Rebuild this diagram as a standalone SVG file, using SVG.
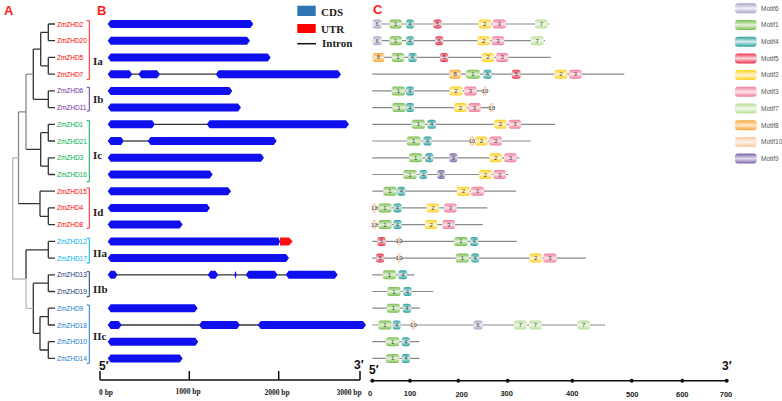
<svg xmlns="http://www.w3.org/2000/svg" width="782" height="401" viewBox="0 0 782 401">
<defs>
<linearGradient id="g6" x1="0" y1="0" x2="0" y2="1"><stop offset="0" stop-color="#a7a3c6"/><stop offset="0.5" stop-color="#f2f1f8"/><stop offset="1" stop-color="#a7a3c6"/></linearGradient>
<linearGradient id="g1" x1="0" y1="0" x2="0" y2="1"><stop offset="0" stop-color="#79bd4c"/><stop offset="0.5" stop-color="#e6f3dc"/><stop offset="1" stop-color="#79bd4c"/></linearGradient>
<linearGradient id="g4" x1="0" y1="0" x2="0" y2="1"><stop offset="0" stop-color="#26a09a"/><stop offset="0.5" stop-color="#d8efee"/><stop offset="1" stop-color="#26a09a"/></linearGradient>
<linearGradient id="g5" x1="0" y1="0" x2="0" y2="1"><stop offset="0" stop-color="#e8304a"/><stop offset="0.5" stop-color="#fbdade"/><stop offset="1" stop-color="#e8304a"/></linearGradient>
<linearGradient id="g2" x1="0" y1="0" x2="0" y2="1"><stop offset="0" stop-color="#fdd020"/><stop offset="0.5" stop-color="#fff6d0"/><stop offset="1" stop-color="#fdd020"/></linearGradient>
<linearGradient id="g3" x1="0" y1="0" x2="0" y2="1"><stop offset="0" stop-color="#f07b99"/><stop offset="0.5" stop-color="#fde3ea"/><stop offset="1" stop-color="#f07b99"/></linearGradient>
<linearGradient id="g7" x1="0" y1="0" x2="0" y2="1"><stop offset="0" stop-color="#b6de98"/><stop offset="0.5" stop-color="#f1f9ea"/><stop offset="1" stop-color="#b6de98"/></linearGradient>
<linearGradient id="g8" x1="0" y1="0" x2="0" y2="1"><stop offset="0" stop-color="#f9a633"/><stop offset="0.5" stop-color="#fee9cc"/><stop offset="1" stop-color="#f9a633"/></linearGradient>
<linearGradient id="g10" x1="0" y1="0" x2="0" y2="1"><stop offset="0" stop-color="#fcc7a2"/><stop offset="0.5" stop-color="#fff2ea"/><stop offset="1" stop-color="#fcc7a2"/></linearGradient>
<linearGradient id="g9" x1="0" y1="0" x2="0" y2="1"><stop offset="0" stop-color="#7a64a8"/><stop offset="0.5" stop-color="#e2dcee"/><stop offset="1" stop-color="#7a64a8"/></linearGradient>
</defs>
<style>
.hd{font-family:"Liberation Sans",Arial,sans-serif;font-weight:bold;font-size:13px;fill:#ff1a1a}
.lf{font-family:"Liberation Sans",Arial,sans-serif;font-size:6.6px;letter-spacing:-0.1px}
.grp{font-family:"Liberation Serif","Times New Roman",serif;font-weight:bold;font-size:11px;fill:#222}
.leg{font-family:"Liberation Serif","Times New Roman",serif;font-weight:bold;font-size:11px;fill:#222}
.ax{font-family:"Liberation Serif","Times New Roman",serif;font-weight:bold;font-size:7.5px;fill:#222;text-anchor:middle}
.axc{font-family:"Liberation Sans",Arial,sans-serif;font-weight:bold;font-size:7.5px;fill:#222;text-anchor:middle}
.pr{font-family:"Liberation Sans",Arial,sans-serif;font-weight:bold;font-size:12px;fill:#111}
.mt{font-family:"Liberation Sans",Arial,sans-serif;font-size:6px;fill:#444;text-anchor:middle}
.ml{font-family:"Liberation Sans",Arial,sans-serif;font-size:6.5px;fill:#555}
.t{stroke:#333;stroke-width:1.3;fill:none}
.tm{stroke:#888;stroke-width:1.3;fill:none}
.tl{stroke:#bbb;stroke-width:1.3;fill:none}
.br{fill:none;stroke-width:1}
.cds{fill:#1010ee}
.utr{fill:#ff1010}
.intr{stroke:#333;stroke-width:1.3}
.ml2{stroke:#8a8a8a;stroke-width:1.2}
.r6{fill:url(#g6)}.r1{fill:url(#g1)}.r4{fill:url(#g4)}.r5{fill:url(#g5)}.r2{fill:url(#g2)}
.r3{fill:url(#g3)}.r7{fill:url(#g7)}.r8{fill:url(#g8)}.r10{fill:url(#g10)}.r9{fill:url(#g9)}
.red{fill:#ff0000}.pur{fill:#7030a0}.grn{fill:#00b050}.lbl{fill:#00b0f0}.nav{fill:#1f3a78}.blu{fill:#1f7ad0}
</style>

<text class="hd" x="4" y="15">A</text>
<text class="hd" x="97" y="15">B</text>
<text class="hd" x="373" y="14">C</text>

<g id="tree">
<path class="t" d="M48.3 24H55M48.3 40.7H55M48.3 24V40.7M48.3 57.4H55M48.3 74.2H55M48.3 57.4V74.2M48.3 32.4H40.7M48.3 65.8H40.7M40.7 32.4V65.8M40.7 49.1H33.3"/>
<path class="t" d="M48.3 90.9H55M48.3 107.6H55M48.3 90.9V107.6M48.3 99.3H33.3M33.3 49.1V99.3"/>
<path class="t" d="M48.3 124.3H55M48.3 141H55M48.3 124.3V141M48.3 157.8H55M48.3 174.5H55M48.3 157.8V174.5M48.3 132.7H40.7M48.3 166.2H40.7M40.7 132.7V166.2M40.7 149.4H26"/>
<path class="tm" d="M33.3 74.2H26M26 74.2V149.4M26 111.8H18.5M18.5 111.8V203.7"/>
<path class="t" d="M40 191.2H55M48.3 207.9H55M48.3 224.6H55M48.3 207.9V224.6M48.3 216.3H40M40 191.2V216.3M40 203.7H18.5"/>
<path class="t" d="M48.3 241.4H55M48.3 258.1H55M48.3 241.4V258.1M48.3 249.8H26M26 249.8V279"/>
<path class="t" d="M48.3 274.8H55M48.3 291.5H55M48.3 274.8V291.5M48.3 283.2H33.3M33.3 283.2V333.3"/>
<path class="t" d="M48.3 308.2H55M48.3 325H55M48.3 308.2V325M48.3 341.7H55M48.3 358.4H55M48.3 341.7V358.4M48.3 316.6H40M48.3 350H40M40 316.6V350M40 333.3H33.3"/>
<path class="tl" d="M33.3 308.3H26M26 279V308.3M26 279H12.7M18.5 157.8H12.7M12.7 157.8V279"/>
</g>

<g id="leaves">
<text class="lf red" x="57" y="26.5">ZmZHD2</text>
<text class="lf red" x="57" y="43.2">ZmZHD20</text>
<text class="lf red" x="57" y="59.9">ZmZHD5</text>
<text class="lf red" x="57" y="76.7">ZmZHD7</text>
<text class="lf pur" x="57" y="93.4">ZmZHD6</text>
<text class="lf pur" x="57" y="110.1">ZmZHD11</text>
<text class="lf grn" x="57" y="126.8">ZmZHD1</text>
<text class="lf grn" x="57" y="143.5">ZmZHD21</text>
<text class="lf grn" x="57" y="160.3">ZmZHD3</text>
<text class="lf grn" x="57" y="177">ZmZHD16</text>
<text class="lf red" x="57" y="193.7">ZmZHD15</text>
<text class="lf red" x="57" y="210.4">ZmZHD4</text>
<text class="lf red" x="57" y="227.1">ZmZHD8</text>
<text class="lf lbl" x="57" y="243.9">ZmZHD12</text>
<text class="lf lbl" x="57" y="260.6">ZmZHD17</text>
<text class="lf nav" x="57" y="277.3">ZmZHD13</text>
<text class="lf nav" x="57" y="294">ZmZHD19</text>
<text class="lf blu" x="57" y="310.7">ZmZHD9</text>
<text class="lf blu" x="57" y="327.5">ZmZHD18</text>
<text class="lf blu" x="57" y="344.2">ZmZHD10</text>
<text class="lf blu" x="57" y="360.9">ZmZHD14</text>
</g>

<g id="groups">
<path class="br" stroke="#ff2020" d="M86.7 20.7H89.3V79.3H86.7"/>
<path class="br" stroke="#7030a0" d="M86.7 87.3H89.3V111H86.7"/>
<path class="br" stroke="#00b050" d="M86.7 120.7H89.3V181.7H86.7"/>
<path class="br" stroke="#ff2020" d="M86.7 188H89.3V228.3H86.7"/>
<path class="br" stroke="#00b0f0" d="M86.7 238.3H89.3V263H86.7"/>
<path class="br" stroke="#1f3a78" d="M86.7 271.7H89.3V296.7H86.7"/>
<path class="br" stroke="#1f7ad0" d="M86.7 305H89.3V363.3H86.7"/>
<text class="grp" x="93" y="65">Ia</text>
<text class="grp" x="93" y="103">Ib</text>
<text class="grp" x="93" y="158.5">Ic</text>
<text class="grp" x="93" y="216">Id</text>
<text class="grp" x="93" y="257">IIa</text>
<text class="grp" x="93" y="293">IIb</text>
<text class="grp" x="93" y="340">IIc</text>
</g>

<g id="legendB">
<rect x="297.3" y="5.7" width="18.4" height="10.3" fill="#2e75b6"/>
<text class="leg" x="321" y="16">CDS</text>
<rect x="297.3" y="24" width="18.4" height="9" fill="#ff0000"/>
<text class="leg" x="321" y="33">UTR</text>
<line x1="297.3" y1="43.7" x2="316" y2="43.7" stroke="#111" stroke-width="1.5"/>
<text class="leg" x="322" y="47">Intron</text>
</g>

<g id="introns">
<line class="intr" x1="132" y1="74.2" x2="216" y2="74.2"/>
<line class="intr" x1="155" y1="124.3" x2="207" y2="124.3"/>
<line class="intr" x1="124" y1="141" x2="148" y2="141"/>
<line class="intr" x1="117" y1="274.8" x2="286" y2="274.8"/>
<line class="intr" x1="121" y1="325" x2="258" y2="325"/>
</g>

<g id="genes">
<polygon class="cds" points="107.7,24 110.7,20 250.3,20 253.3,24 250.3,28 110.7,28"/>
<polygon class="cds" points="107.7,40.7 110.7,36.7 247,36.7 250,40.7 247,44.7 110.7,44.7"/>
<polygon class="cds" points="107.7,57.4 110.7,53.4 267.7,53.4 270.7,57.4 267.7,61.4 110.7,61.4"/>
<polygon class="cds" points="107.7,74.2 110.7,70.2 129.3,70.2 132.3,74.2 129.3,78.2 110.7,78.2"/>
<polygon class="cds" points="138.3,74.2 141.3,70.2 157,70.2 160,74.2 157,78.2 141.3,78.2"/>
<polygon class="cds" points="215.7,74.2 218.7,70.2 338,70.2 341,74.2 338,78.2 218.7,78.2"/>
<polygon class="cds" points="107.7,90.9 110.7,86.9 229.3,86.9 232.3,90.9 229.3,94.9 110.7,94.9"/>
<polygon class="cds" points="107.7,107.6 110.7,103.6 238,103.6 241,107.6 238,111.6 110.7,111.6"/>
<polygon class="cds" points="107.7,124.3 110.7,120.3 152,120.3 155,124.3 152,128.3 110.7,128.3"/>
<polygon class="cds" points="206.7,124.3 209.7,120.3 346,120.3 349,124.3 346,128.3 209.7,128.3"/>
<polygon class="cds" points="107.7,141 110.7,137 121,137 124,141 121,145 110.7,145"/>
<polygon class="cds" points="147.7,141 150.7,137 273.7,137 276.7,141 273.7,145 150.7,145"/>
<polygon class="cds" points="107.7,157.8 110.7,153.8 261,153.8 264,157.8 261,161.8 110.7,161.8"/>
<polygon class="cds" points="107.7,174.5 110.7,170.5 209.7,170.5 212.7,174.5 209.7,178.5 110.7,178.5"/>
<polygon class="cds" points="107.7,191.2 110.7,187.2 228,187.2 231,191.2 228,195.2 110.7,195.2"/>
<polygon class="cds" points="107.7,207.9 110.7,203.9 207,203.9 210,207.9 207,211.9 110.7,211.9"/>
<polygon class="cds" points="107.7,224.6 110.7,220.6 179.7,220.6 182.7,224.6 179.7,228.6 110.7,228.6"/>
<polygon class="cds" points="107.7,241.4 110.7,237.4 278.5,237.4 280,241.4 278.5,245.4 110.7,245.4"/>
<polygon class="utr" points="280,237.4 289,237.4 292.7,241.4 289,245.4 280,245.4"/>
<polygon class="cds" points="107.7,258.1 110.7,254.1 286,254.1 289,258.1 286,262.1 110.7,262.1"/>
<polygon class="cds" points="107.7,274.8 110.7,270.8 114.7,270.8 117.7,274.8 114.7,278.8 110.7,278.8"/>
<polygon class="cds" points="207.7,274.8 210.7,270.8 215.3,270.8 218.3,274.8 215.3,278.8 210.7,278.8"/>
<polygon class="cds" points="234.3,274.8 235.5,270.8 236.7,274.8 235.5,278.8"/>
<polygon class="cds" points="245.7,274.8 248.7,270.8 274.7,270.8 277.7,274.8 274.7,278.8 248.7,278.8"/>
<polygon class="cds" points="285.7,274.8 288.7,270.8 334.7,270.8 337.7,274.8 334.7,278.8 288.7,278.8"/>
<polygon class="cds" points="107.7,308.2 110.7,304.2 194.7,304.2 197.7,308.2 194.7,312.2 110.7,312.2"/>
<polygon class="cds" points="107.7,325 110.7,321 118.7,321 121.7,325 118.7,329 110.7,329"/>
<polygon class="cds" points="199,325 202,321 237,321 240,325 237,329 202,329"/>
<polygon class="cds" points="257.7,325 260.7,321 363,321 366,325 363,329 260.7,329"/>
<polygon class="cds" points="107.7,341.7 110.7,337.7 195.3,337.7 198.3,341.7 195.3,345.7 110.7,345.7"/>
<polygon class="cds" points="107.7,358.4 110.7,354.4 179.7,354.4 182.7,358.4 179.7,362.4 110.7,362.4"/>
</g>

<g id="axisB">
<path d="M100 380H360M100 371V380M189.3 371V380M278.7 371V380M360 371V380" stroke="#111" stroke-width="1.5" fill="none"/>
<text class="pr" x="99" y="370">5′</text>
<text class="pr" x="354" y="369">3′</text>
<text class="ax" x="106" y="395">0 bp</text>
<text class="ax" x="188" y="394">1000 bp</text>
<text class="ax" x="277" y="395">2000 bp</text>
<text class="ax" x="349" y="395">3000 bp</text>
</g>

<g id="motifLines">
<line class="ml2" x1="372.3" y1="24" x2="549.3" y2="24"/>
<line class="ml2" x1="372.3" y1="40.7" x2="545" y2="40.7"/>
<line class="ml2" x1="372.3" y1="57.4" x2="550.7" y2="57.4"/>
<line class="ml2" x1="372.3" y1="74.2" x2="624.3" y2="74.2"/>
<line class="ml2" x1="372.3" y1="90.9" x2="487.7" y2="90.9"/>
<line class="ml2" x1="372.3" y1="107.6" x2="495" y2="107.6"/>
<line class="ml2" x1="372.3" y1="124.3" x2="555" y2="124.3"/>
<line class="ml2" x1="372.3" y1="141" x2="530.7" y2="141"/>
<line class="ml2" x1="372.3" y1="157.8" x2="519.3" y2="157.8"/>
<line class="ml2" x1="372.3" y1="174.5" x2="508.3" y2="174.5"/>
<line class="ml2" x1="372.3" y1="191.2" x2="516" y2="191.2"/>
<line class="ml2" x1="372.3" y1="207.9" x2="487.3" y2="207.9"/>
<line class="ml2" x1="372.3" y1="224.6" x2="482.7" y2="224.6"/>
<line class="ml2" x1="372.3" y1="241.4" x2="516.7" y2="241.4"/>
<line class="ml2" x1="372.3" y1="258.1" x2="586" y2="258.1"/>
<line class="ml2" x1="372.3" y1="274.8" x2="414.3" y2="274.8"/>
<line class="ml2" x1="372.3" y1="291.5" x2="433.3" y2="291.5"/>
<line class="ml2" x1="372.3" y1="308.2" x2="420" y2="308.2"/>
<line class="ml2" x1="372.3" y1="325" x2="605" y2="325"/>
<line class="ml2" x1="372.3" y1="341.7" x2="419.3" y2="341.7"/>
<line class="ml2" x1="372.3" y1="358.4" x2="419.3" y2="358.4"/>
</g>

<g id="motifs">
<rect class="r6" x="372.7" y="19.5" width="9" height="9" rx="2.5"/><text class="mt" x="377.2" y="26">6</text>
<rect class="r1" x="389.3" y="19.5" width="12.7" height="9" rx="2.5"/><text class="mt" x="395.7" y="26">1</text>
<rect class="r4" x="406" y="19.5" width="8" height="9" rx="2.5"/><text class="mt" x="410" y="26">4</text>
<rect class="r5" x="433.3" y="19.5" width="8.4" height="9" rx="2.5"/><text class="mt" x="437.5" y="26">5</text>
<rect class="r2" x="478.3" y="19.5" width="12.7" height="9" rx="2.5"/><text class="mt" x="484.7" y="26">2</text>
<rect class="r3" x="492.7" y="19.5" width="13" height="9" rx="2.5"/><text class="mt" x="499.2" y="26">3</text>
<rect class="r7" x="535" y="19.5" width="12.7" height="9" rx="2.5"/><text class="mt" x="541.3" y="26">7</text>
<rect class="r6" x="372.7" y="36.2" width="9" height="9" rx="2.5"/><text class="mt" x="377.2" y="42.7">6</text>
<rect class="r1" x="389.3" y="36.2" width="12.7" height="9" rx="2.5"/><text class="mt" x="395.7" y="42.7">1</text>
<rect class="r4" x="406" y="36.2" width="8" height="9" rx="2.5"/><text class="mt" x="410" y="42.7">4</text>
<rect class="r5" x="435" y="36.2" width="8.3" height="9" rx="2.5"/><text class="mt" x="439.2" y="42.7">5</text>
<rect class="r2" x="477.3" y="36.2" width="12.7" height="9" rx="2.5"/><text class="mt" x="483.7" y="42.7">2</text>
<rect class="r3" x="491.7" y="36.2" width="12.6" height="9" rx="2.5"/><text class="mt" x="498" y="42.7">3</text>
<rect class="r7" x="530.7" y="36.2" width="13" height="9" rx="2.5"/><text class="mt" x="537.2" y="42.7">7</text>
<rect class="r8" x="372.7" y="52.9" width="11.6" height="9" rx="2.5"/><text class="mt" x="378.5" y="59.4">8</text>
<rect class="r1" x="391.7" y="52.9" width="12.6" height="9" rx="2.5"/><text class="mt" x="398" y="59.4">1</text>
<rect class="r4" x="408.3" y="52.9" width="8.4" height="9" rx="2.5"/><text class="mt" x="412.5" y="59.4">4</text>
<rect class="r5" x="440" y="52.9" width="8.3" height="9" rx="2.5"/><text class="mt" x="444.2" y="59.4">5</text>
<rect class="r2" x="481.7" y="52.9" width="12.6" height="9" rx="2.5"/><text class="mt" x="488" y="59.4">2</text>
<rect class="r3" x="496" y="52.9" width="12.3" height="9" rx="2.5"/><text class="mt" x="502.2" y="59.4">3</text>
<rect class="r8" x="449.3" y="69.7" width="11.7" height="9" rx="2.5"/><text class="mt" x="455.2" y="76.2">8</text>
<rect class="r1" x="466" y="69.7" width="14" height="9" rx="2.5"/><text class="mt" x="473" y="76.2">1</text>
<rect class="r4" x="483.3" y="69.7" width="8.4" height="9" rx="2.5"/><text class="mt" x="487.5" y="76.2">4</text>
<rect class="r5" x="511.7" y="69.7" width="9" height="9" rx="2.5"/><text class="mt" x="516.2" y="76.2">5</text>
<rect class="r2" x="554.3" y="69.7" width="13" height="9" rx="2.5"/><text class="mt" x="560.8" y="76.2">2</text>
<rect class="r3" x="569" y="69.7" width="12.7" height="9" rx="2.5"/><text class="mt" x="575.3" y="76.2">3</text>
<rect class="r1" x="391.7" y="86.4" width="13.3" height="9" rx="2.5"/><text class="mt" x="398.3" y="92.9">1</text>
<rect class="r4" x="406" y="86.4" width="8" height="9" rx="2.5"/><text class="mt" x="410" y="92.9">4</text>
<rect class="r2" x="449.3" y="86.4" width="13.4" height="9" rx="2.5"/><text class="mt" x="456" y="92.9">2</text>
<rect class="r3" x="464" y="86.4" width="12.7" height="9" rx="2.5"/><text class="mt" x="470.3" y="92.9">3</text>
<rect class="r10" x="483.3" y="86.4" width="3.4" height="9" rx="1.2"/><text class="mt" x="485" y="92.9">10</text>
<rect class="r1" x="392.3" y="103.1" width="13.4" height="9" rx="2.5"/><text class="mt" x="399" y="109.6">1</text>
<rect class="r4" x="406" y="103.1" width="8" height="9" rx="2.5"/><text class="mt" x="410" y="109.6">4</text>
<rect class="r2" x="454" y="103.1" width="12.7" height="9" rx="2.5"/><text class="mt" x="460.3" y="109.6">2</text>
<rect class="r3" x="468.3" y="103.1" width="12.4" height="9" rx="2.5"/><text class="mt" x="474.5" y="109.6">3</text>
<rect class="r10" x="490" y="103.1" width="3.3" height="9" rx="1.2"/><text class="mt" x="491.7" y="109.6">10</text>
<rect class="r1" x="411.7" y="119.8" width="13.3" height="9" rx="2.5"/><text class="mt" x="418.3" y="126.3">1</text>
<rect class="r4" x="427.3" y="119.8" width="8.7" height="9" rx="2.5"/><text class="mt" x="431.7" y="126.3">4</text>
<rect class="r2" x="494" y="119.8" width="12.7" height="9" rx="2.5"/><text class="mt" x="500.3" y="126.3">2</text>
<rect class="r3" x="508.7" y="119.8" width="12.3" height="9" rx="2.5"/><text class="mt" x="514.8" y="126.3">3</text>
<rect class="r1" x="406.7" y="136.5" width="14" height="9" rx="2.5"/><text class="mt" x="413.7" y="143">1</text>
<rect class="r4" x="423.3" y="136.5" width="8.4" height="9" rx="2.5"/><text class="mt" x="427.5" y="143">4</text>
<rect class="r10" x="470" y="136.5" width="4" height="9" rx="1.2"/><text class="mt" x="472" y="143">10</text>
<rect class="r2" x="475" y="136.5" width="12.7" height="9" rx="2.5"/><text class="mt" x="481.3" y="143">2</text>
<rect class="r3" x="489.3" y="136.5" width="12.7" height="9" rx="2.5"/><text class="mt" x="495.7" y="143">3</text>
<rect class="r1" x="409" y="153.3" width="13.3" height="9" rx="2.5"/><text class="mt" x="415.7" y="159.8">1</text>
<rect class="r4" x="425" y="153.3" width="8.3" height="9" rx="2.5"/><text class="mt" x="429.2" y="159.8">4</text>
<rect class="r9" x="449.3" y="153.3" width="8" height="9" rx="2.5"/><text class="mt" x="453.3" y="159.8">9</text>
<rect class="r2" x="489.3" y="153.3" width="12.7" height="9" rx="2.5"/><text class="mt" x="495.7" y="159.8">2</text>
<rect class="r3" x="504" y="153.3" width="12.7" height="9" rx="2.5"/><text class="mt" x="510.3" y="159.8">3</text>
<rect class="r1" x="403.3" y="170" width="13.4" height="9" rx="2.5"/><text class="mt" x="410" y="176.5">1</text>
<rect class="r4" x="419.3" y="170" width="8" height="9" rx="2.5"/><text class="mt" x="423.3" y="176.5">4</text>
<rect class="r9" x="437.3" y="170" width="7.7" height="9" rx="2.5"/><text class="mt" x="441.2" y="176.5">9</text>
<rect class="r2" x="479" y="170" width="12.7" height="9" rx="2.5"/><text class="mt" x="485.3" y="176.5">2</text>
<rect class="r3" x="493.3" y="170" width="12.7" height="9" rx="2.5"/><text class="mt" x="499.7" y="176.5">3</text>
<rect class="r1" x="383.3" y="186.7" width="13.4" height="9" rx="2.5"/><text class="mt" x="390" y="193.2">1</text>
<rect class="r4" x="397.3" y="186.7" width="8" height="9" rx="2.5"/><text class="mt" x="401.3" y="193.2">4</text>
<rect class="r2" x="456.7" y="186.7" width="13.3" height="9" rx="2.5"/><text class="mt" x="463.3" y="193.2">2</text>
<rect class="r3" x="471" y="186.7" width="13" height="9" rx="2.5"/><text class="mt" x="477.5" y="193.2">3</text>
<rect class="r10" x="372.7" y="203.4" width="3.3" height="9" rx="1.2"/><text class="mt" x="374.4" y="209.9">10</text>
<rect class="r1" x="378.3" y="203.4" width="13.4" height="9" rx="2.5"/><text class="mt" x="385" y="209.9">1</text>
<rect class="r4" x="393.3" y="203.4" width="8.4" height="9" rx="2.5"/><text class="mt" x="397.5" y="209.9">4</text>
<rect class="r2" x="426.7" y="203.4" width="12.6" height="9" rx="2.5"/><text class="mt" x="433" y="209.9">2</text>
<rect class="r3" x="444" y="203.4" width="12.7" height="9" rx="2.5"/><text class="mt" x="450.3" y="209.9">3</text>
<rect class="r10" x="372.7" y="220.1" width="3.3" height="9" rx="1.2"/><text class="mt" x="374.4" y="226.6">10</text>
<rect class="r1" x="378.3" y="220.1" width="13.4" height="9" rx="2.5"/><text class="mt" x="385" y="226.6">1</text>
<rect class="r4" x="393.3" y="220.1" width="8.4" height="9" rx="2.5"/><text class="mt" x="397.5" y="226.6">4</text>
<rect class="r2" x="425" y="220.1" width="12.3" height="9" rx="2.5"/><text class="mt" x="431.2" y="226.6">2</text>
<rect class="r3" x="442.3" y="220.1" width="12.7" height="9" rx="2.5"/><text class="mt" x="448.7" y="226.6">3</text>
<rect class="r5" x="377.3" y="236.9" width="8.4" height="9" rx="2.5"/><text class="mt" x="381.5" y="243.4">5</text>
<rect class="r10" x="397.7" y="236.9" width="3" height="9" rx="1.2"/><text class="mt" x="399.2" y="243.4">10</text>
<rect class="r1" x="454.3" y="236.9" width="13.4" height="9" rx="2.5"/><text class="mt" x="461" y="243.4">1</text>
<rect class="r4" x="470" y="236.9" width="8.3" height="9" rx="2.5"/><text class="mt" x="474.2" y="243.4">4</text>
<rect class="r5" x="376" y="253.6" width="8.3" height="9" rx="2.5"/><text class="mt" x="380.2" y="260.1">5</text>
<rect class="r10" x="397.7" y="253.6" width="3" height="9" rx="1.2"/><text class="mt" x="399.2" y="260.1">10</text>
<rect class="r1" x="455.7" y="253.6" width="13.3" height="9" rx="2.5"/><text class="mt" x="462.3" y="260.1">1</text>
<rect class="r4" x="471" y="253.6" width="8.3" height="9" rx="2.5"/><text class="mt" x="475.2" y="260.1">4</text>
<rect class="r2" x="529.3" y="253.6" width="12.7" height="9" rx="2.5"/><text class="mt" x="535.7" y="260.1">2</text>
<rect class="r3" x="543.3" y="253.6" width="13.4" height="9" rx="2.5"/><text class="mt" x="550" y="260.1">3</text>
<rect class="r1" x="382.7" y="270.3" width="13.3" height="9" rx="2.5"/><text class="mt" x="389.3" y="276.8">1</text>
<rect class="r4" x="398.3" y="270.3" width="9" height="9" rx="2.5"/><text class="mt" x="402.8" y="276.8">4</text>
<rect class="r1" x="387.3" y="287" width="13.4" height="9" rx="2.5"/><text class="mt" x="394" y="293.5">1</text>
<rect class="r4" x="403.3" y="287" width="8.4" height="9" rx="2.5"/><text class="mt" x="407.5" y="293.5">4</text>
<rect class="r1" x="386.7" y="303.7" width="13.3" height="9" rx="2.5"/><text class="mt" x="393.3" y="310.2">1</text>
<rect class="r4" x="402.7" y="303.7" width="8.3" height="9" rx="2.5"/><text class="mt" x="406.8" y="310.2">4</text>
<rect class="r1" x="378.3" y="320.5" width="13.4" height="9" rx="2.5"/><text class="mt" x="385" y="327">1</text>
<rect class="r4" x="392.7" y="320.5" width="8" height="9" rx="2.5"/><text class="mt" x="396.7" y="327">4</text>
<rect class="r10" x="411.7" y="320.5" width="3.3" height="9" rx="1.2"/><text class="mt" x="413.4" y="327">10</text>
<rect class="r6" x="473.3" y="320.5" width="9.4" height="9" rx="2.5"/><text class="mt" x="478" y="327">6</text>
<rect class="r7" x="514" y="320.5" width="12.7" height="9" rx="2.5"/><text class="mt" x="520.3" y="327">7</text>
<rect class="r7" x="529" y="320.5" width="12.7" height="9" rx="2.5"/><text class="mt" x="535.3" y="327">7</text>
<rect class="r7" x="577.3" y="320.5" width="12.7" height="9" rx="2.5"/><text class="mt" x="583.7" y="327">7</text>
<rect class="r1" x="386" y="337.2" width="13.3" height="9" rx="2.5"/><text class="mt" x="392.7" y="343.7">1</text>
<rect class="r4" x="401.7" y="337.2" width="8.3" height="9" rx="2.5"/><text class="mt" x="405.8" y="343.7">4</text>
<rect class="r1" x="386" y="353.9" width="13.3" height="9" rx="2.5"/><text class="mt" x="392.7" y="360.4">1</text>
<rect class="r4" x="401.7" y="353.9" width="8.3" height="9" rx="2.5"/><text class="mt" x="405.8" y="360.4">4</text>
</g>

<g id="axisC">
<line x1="372.3" y1="380.7" x2="727" y2="380.7" stroke="#111" stroke-width="1.6"/>
<g fill="#111">
<circle cx="372.3" cy="380.7" r="2"/><circle cx="410" cy="380.7" r="2"/><circle cx="458.3" cy="380.7" r="2"/><circle cx="507.7" cy="380.7" r="2"/>
<circle cx="572.3" cy="380.7" r="2"/><circle cx="631.7" cy="380.7" r="2"/><circle cx="682.3" cy="380.7" r="2"/><circle cx="726.7" cy="380.7" r="2"/>
</g>
<text class="pr" x="369" y="374">5′</text>
<text class="pr" x="722" y="370">3′</text>
<text class="axc" x="370" y="396">0</text>
<text class="axc" x="410" y="395.5">100</text>
<text class="axc" x="461.7" y="396.5">200</text>
<text class="axc" x="506.7" y="395.5">300</text>
<text class="axc" x="572.3" y="395.5">400</text>
<text class="axc" x="632.3" y="396.5">500</text>
<text class="axc" x="682.3" y="396.5">600</text>
<text class="axc" x="726" y="396.5">700</text>
</g>

<g id="legendC">
<rect class="r6" x="735" y="3.3" width="21.7" height="10" rx="3"/><text class="ml" x="761" y="10.6">Motif6</text>
<rect class="r1" x="735" y="20" width="21.7" height="10" rx="3"/><text class="ml" x="761" y="27.3">Motif1</text>
<rect class="r4" x="735" y="36.7" width="21.7" height="10" rx="3"/><text class="ml" x="761" y="44">Motif4</text>
<rect class="r5" x="735" y="53.4" width="21.7" height="10" rx="3"/><text class="ml" x="761" y="60.7">Motif5</text>
<rect class="r2" x="735" y="70.1" width="21.7" height="10" rx="3"/><text class="ml" x="761" y="77.4">Motif2</text>
<rect class="r3" x="735" y="86.8" width="21.7" height="10" rx="3"/><text class="ml" x="761" y="94.1">Motif3</text>
<rect class="r7" x="735" y="103.5" width="21.7" height="10" rx="3"/><text class="ml" x="761" y="110.8">Motif7</text>
<rect class="r8" x="735" y="120.2" width="21.7" height="10" rx="3"/><text class="ml" x="761" y="127.5">Motif8</text>
<rect class="r10" x="735" y="136.9" width="21.7" height="10" rx="3"/><text class="ml" x="761" y="144.2">Motif10</text>
<rect class="r9" x="735" y="153.6" width="21.7" height="10" rx="3"/><text class="ml" x="761" y="160.9">Motif9</text>
</g>
</svg>
